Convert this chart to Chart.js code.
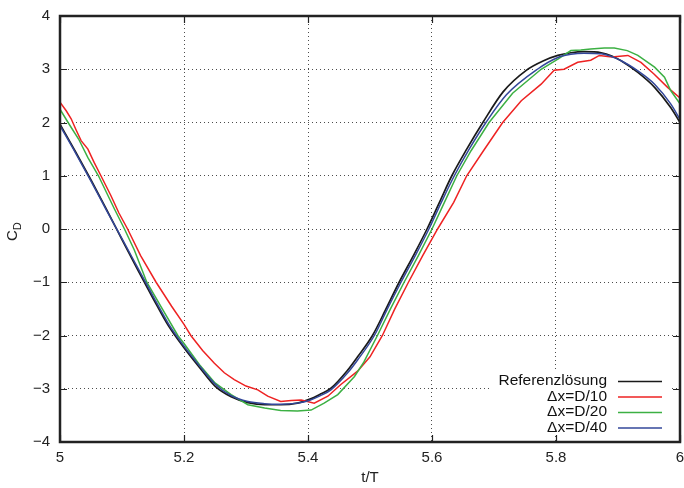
<!DOCTYPE html>
<html>
<head>
<meta charset="utf-8">
<script src="https://cdn.jsdelivr.net/npm/chart.js@4/dist/chart.umd.min.js"></script>
<style>
html,body{margin:0;padding:0;background:#fff;}
#wrap{width:684px;height:488px;position:relative;}
</style>
</head>
<body>
<div id="wrap"><canvas id="c" width="684" height="488"></canvas></div>
<script>
// ---- data ----
const xTicks = [5, 5.2, 5.4, 5.6, 5.8, 6];
const yTicks = [-4, -3, -2, -1, 0, 1, 2, 3, 4];
const seriesNames = ['Referenzlösung', 'Δx=D/10', 'Δx=D/20', 'Δx=D/40'];
const seriesColors = ['#1a1a1a', '#ee2222', '#3cb043', '#33479a'];

const refT  = [5.000,5.025,5.050,5.075,5.100,5.125,5.150,5.175,5.200,5.225,5.250,5.276,5.303,5.330,5.356,5.383,5.402,5.420,5.437,5.464,5.480,5.504,5.525,5.547,5.570,5.592,5.612,5.632,5.656,5.682,5.715,5.752,5.780,5.803,5.824,5.845,5.873,5.890,5.905,5.932,5.959,5.985,6.000];
const refCD = [1.97,1.45,0.92,0.37,-0.20,-0.76,-1.30,-1.82,-2.23,-2.60,-2.95,-3.15,-3.26,-3.30,-3.30,-3.27,-3.20,-3.10,-2.99,-2.65,-2.40,-2.00,-1.52,-1.00,-0.50,0.00,0.50,1.00,1.50,2.00,2.58,2.98,3.16,3.26,3.31,3.33,3.31,3.25,3.16,2.94,2.66,2.28,2.00];

const d10T  = [5.000,5.010,5.018,5.026,5.034,5.045,5.055,5.066,5.082,5.095,5.109,5.130,5.155,5.180,5.200,5.211,5.230,5.249,5.265,5.281,5.300,5.319,5.335,5.356,5.373,5.389,5.410,5.432,5.453,5.480,5.500,5.520,5.540,5.562,5.585,5.609,5.635,5.656,5.683,5.714,5.744,5.776,5.797,5.813,5.835,5.856,5.870,5.890,5.916,5.937,5.958,5.980,6.000];
const d10CD = [2.38,2.22,2.07,1.86,1.66,1.50,1.25,1.00,0.63,0.30,0.00,-0.50,-1.00,-1.45,-1.79,-2.00,-2.28,-2.52,-2.70,-2.83,-2.95,-3.02,-3.14,-3.24,-3.22,-3.21,-3.27,-3.14,-2.92,-2.67,-2.40,-2.00,-1.50,-1.00,-0.50,0.00,0.50,1.00,1.47,2.00,2.41,2.72,2.98,3.00,3.13,3.17,3.26,3.23,3.26,3.13,2.91,2.66,2.46];

const d20T  = [5.000,5.013,5.030,5.045,5.062,5.088,5.104,5.120,5.140,5.165,5.190,5.200,5.225,5.250,5.276,5.303,5.330,5.356,5.383,5.405,5.426,5.448,5.475,5.490,5.512,5.533,5.555,5.578,5.600,5.620,5.640,5.663,5.692,5.730,5.776,5.803,5.824,5.840,5.856,5.878,5.894,5.915,5.932,5.959,5.975,5.985,6.000];
const d20CD = [2.25,2.00,1.69,1.34,1.00,0.37,0.00,-0.40,-1.00,-1.50,-2.00,-2.15,-2.55,-2.89,-3.11,-3.30,-3.36,-3.41,-3.42,-3.40,-3.27,-3.11,-2.77,-2.50,-2.00,-1.50,-1.00,-0.50,0.00,0.50,1.00,1.47,2.00,2.55,3.00,3.19,3.35,3.36,3.38,3.40,3.40,3.35,3.26,3.04,2.85,2.60,2.35];

const d40T  = [5.000,5.025,5.050,5.075,5.100,5.125,5.150,5.175,5.200,5.225,5.250,5.276,5.303,5.330,5.356,5.383,5.402,5.420,5.437,5.464,5.480,5.507,5.528,5.550,5.573,5.595,5.615,5.636,5.660,5.687,5.720,5.770,5.803,5.824,5.845,5.873,5.905,5.932,5.959,5.985,6.000];
const d40CD = [1.94,1.43,0.90,0.35,-0.18,-0.72,-1.26,-1.78,-2.20,-2.57,-2.91,-3.13,-3.24,-3.28,-3.29,-3.27,-3.22,-3.13,-3.02,-2.70,-2.46,-2.00,-1.50,-1.00,-0.50,0.00,0.50,1.00,1.50,2.00,2.52,3.00,3.22,3.28,3.30,3.29,3.16,2.97,2.72,2.35,2.06];

const FONT = "'Liberation Sans', Arial, Helvetica, sans-serif";
const pts = (xs, ys) => xs.map((x, i) => ({x: x, y: ys[i]}));
const fmt = v => { const s = String(+(+v).toFixed(1)); return s.replace('-', '\u2212'); };

const framePlugin = {
  id: 'frame',
  afterDatasetsDraw(chart) {
    const ctx = chart.ctx, a = chart.chartArea;
    const xs = chart.scales.x, ys = chart.scales.y;
    ctx.save();
    // legend box
    ctx.fillStyle = '#fff';
    ctx.fillRect(490, 372, 180, 64);
    ctx.font = '15.5px ' + FONT;
    ctx.textAlign = 'right';
    ctx.textBaseline = 'middle';
    const rowY = [381, 396.5, 412, 427.5];
    seriesNames.forEach((n, i) => {
      ctx.fillStyle = '#111';
      ctx.fillText(n, 607, rowY[i]);
      ctx.strokeStyle = seriesColors[i];
      ctx.lineWidth = 1.5;
      ctx.beginPath();
      ctx.moveTo(618, rowY[i] + 0.5);
      ctx.lineTo(662, rowY[i] + 0.5);
      ctx.stroke();
    });
    // inward ticks
    ctx.strokeStyle = '#222';
    ctx.lineWidth = 1.2;
    ctx.beginPath();
    yTicks.forEach(v => {
      const py = Math.round(ys.getPixelForValue(v)) + 0.5;
      ctx.moveTo(a.left, py); ctx.lineTo(a.left + 7, py);
      ctx.moveTo(a.right, py); ctx.lineTo(a.right - 7, py);
    });
    xTicks.forEach(v => {
      const px = Math.round(xs.getPixelForValue(v)) + 0.5;
      ctx.moveTo(px, a.top); ctx.lineTo(px, a.top + 7);
      ctx.moveTo(px, a.bottom); ctx.lineTo(px, a.bottom - 7);
    });
    ctx.stroke();
    // frame
    ctx.lineWidth = 2.5;
    ctx.strokeStyle = '#222';
    ctx.strokeRect(a.left, a.top, a.right - a.left, a.bottom - a.top);
    // axis titles
    ctx.fillStyle = '#222';
    ctx.textAlign = 'center';
    ctx.textBaseline = 'middle';
    ctx.font = '15px ' + FONT;
    ctx.fillText('t/T', 370, 478);
    ctx.translate(17, 241);
    ctx.rotate(-Math.PI / 2);
    ctx.textAlign = 'left';
    ctx.textBaseline = 'alphabetic';
    ctx.fillText('C', 0, 0);
    const w = ctx.measureText('C').width;
    ctx.font = '11px ' + FONT;
    ctx.fillText('D', w, 4);
    ctx.restore();
  }
};

const data = [
  pts(refT, refCD), pts(d10T, d10CD), pts(d20T, d20CD), pts(d40T, d40CD)
];
const orders = [4, 3, 2, 1];
const smooth = [true, false, false, true];

new Chart(document.getElementById('c'), {
  type: 'line',
  data: {
    datasets: data.map((d, i) => ({
      label: seriesNames[i],
      data: d,
      borderColor: seriesColors[i],
      backgroundColor: seriesColors[i],
      borderWidth: i === 0 ? 1.7 : 1.5,
      pointRadius: 0,
      cubicInterpolationMode: smooth[i] ? 'monotone' : 'default',
      tension: smooth[i] ? 0.4 : 0,
      order: orders[i],
      fill: false
    }))
  },
  options: {
    responsive: false,
    animation: false,
    devicePixelRatio: 1,
    layout: { padding: { top: 16, right: 4, left: 0, bottom: 0 } },
    plugins: { legend: { display: false }, tooltip: { enabled: false } },
    scales: {
      x: {
        type: 'linear', min: 5, max: 6,
        afterBuildTicks: s => { s.ticks = xTicks.map(v => ({value: v})); },
        afterFit: s => { s.height = 46; s.paddingLeft = 0; s.paddingRight = 0; },
        ticks: { callback: v => fmt(v), color: '#222', font: { size: 15, family: FONT }, padding: 7, maxRotation: 0, autoSkip: false },
        grid: { color: 'rgba(0,0,0,0.7)', lineWidth: 1, drawTicks: false },
        border: { display: false, dash: [1, 3] }
      },
      y: {
        type: 'linear', min: -4, max: 4,
        afterBuildTicks: s => { s.ticks = yTicks.map(v => ({value: v})); },
        afterFit: s => { s.width = 60; s.paddingTop = 0; s.paddingBottom = 0; },
        ticks: { callback: v => fmt(v), color: '#222', font: { size: 15, family: FONT }, padding: 10, autoSkip: false },
        grid: { color: 'rgba(0,0,0,0.7)', lineWidth: 1, drawTicks: false },
        border: { display: false, dash: [1, 3] }
      }
    }
  },
  plugins: [framePlugin]
});
</script>
</body>
</html>
